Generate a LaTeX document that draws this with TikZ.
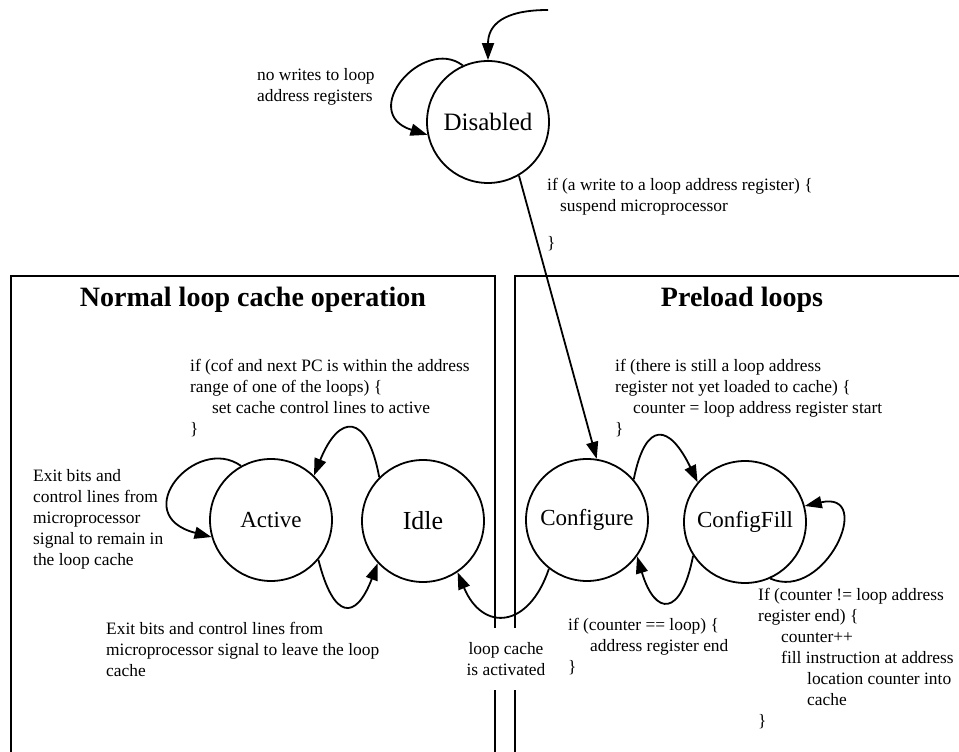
\documentclass[tikz,border=0pt]{standalone}
\usepackage{fontspec}
\setmainfont{Liberation Serif}
\usepackage{tikz}
\usetikzlibrary{arrows.meta}

\newcommand{\notefont}{\fontsize{17.4}{21}\selectfont}

\begin{document}
\begin{tikzpicture}[x=1pt,y=1pt,
  statenode/.style={circle,draw,line width=1.8pt,minimum size=122pt,inner sep=0pt,font=\fontsize{23}{27}\selectfont},
  trans/.style={line width=1.8pt,-{Triangle[length=17pt,width=12pt]}},
  note/.style={anchor=north west,align=left,inner sep=0pt,font=\notefont},
  boxtitle/.style={font=\fontsize{28}{32}\selectfont\bfseries},
  boxline/.style={line width=1.4pt}]
\useasboundingbox (0,0) rectangle (959,752);
%\draw[step=50pt,gray,very thin] (0,0) grid (959,752);

% the two areas
\draw[boxline] (11,-10) -- (11,476) -- (495,476) -- (495,-10);
\draw[boxline] (515,-10) -- (515,476) -- (970,476) -- (970,-10);
\node[boxtitle] (normal) at (253,452) {Normal loop cache operation};
\node[boxtitle] (preload) at (742,452) {Preload loops};

% states
\node[statenode,font=\fontsize{25}{29}\selectfont] (dis) at (488,630) {Disabled};
\node[statenode] (act) at (271,232) {Active};
\node[statenode,font=\fontsize{26}{30}\selectfont] (idle) at (423,231) {Idle};
\node[statenode] (cfg) at (587,232) {Configure};
\node[statenode] (cfill) at (745,230) {ConfigFill};
\coordinate (init) at (548,742);

% transitions
\draw[trans] (init) .. controls +(-45,0) and +(0,35) .. (dis.north);
\draw[trans] (dis.114) .. controls +(-40,30) and +(-70,22) .. (dis.192);
\draw[trans] (dis.-60) -- (cfg.81);
\draw[trans] (act.119) .. controls +(-45,32) and +(-85,22) .. (act.196);
\draw[trans] (idle.135) .. controls +(-12,65) and +(25,62) .. (act.46);
\draw[trans] (act.-40) .. controls +(15,-60) and +(-22,-58) .. (idle.223);
\draw[trans] (cfg.232) .. controls +(-20,-60) and +(25,-60) .. (idle.-56);
\draw[trans] (cfg.41) .. controls +(12,60) and +(-28,58) .. (cfill.140);
\draw[trans] (cfill.213) .. controls +(-12,-62) and +(18,-60) .. (cfg.-36);
\draw[trans] (cfill.-66) .. controls +(55,-24) and +(71,16) .. (cfill.15);

% conditions
\node[note] (nowrite) at (257,684) {no writes to loop\\address registers};
\node[note] (write) at (547,574) {if (a write to a loop address register) \{\\\hspace*{13pt}suspend microprocessor\\[16pt]\}};
\node[note] (cof) at (190,393) {if (cof and next PC is within the address\\range of one of the loops) \{\\\hspace*{22pt}set cache control lines to active\\\}};
\node[note] (still) at (615,393) {if (there is still a loop address\\register not yet loaded to cache) \{\\\hspace*{18pt}counter = loop address register start\\\}};
\node[note] (remain) at (33,283) {Exit bits and\\control lines from\\microprocessor\\signal to remain in\\the loop cache};
\node[note] (leave) at (106,130) {Exit bits and control lines from\\microprocessor signal to leave the loop\\cache};
\node[note] (equal) at (568,134) {if (counter == loop) \{\\\hspace*{22pt}address register end\\\}};
\node[note] (notequal) at (758,164) {If (counter != loop address\\register end) \{\\\hspace*{23pt}counter++\\\hspace*{23pt}fill instruction at address\\\hspace*{49pt}location counter into\\\hspace*{49pt}cache\\\}};
\node[fill=white,align=center,font=\notefont,minimum height=62pt,inner xsep=1pt] (activated) at (506,93) {loop cache\\is activated};
\end{tikzpicture}
\end{document}
